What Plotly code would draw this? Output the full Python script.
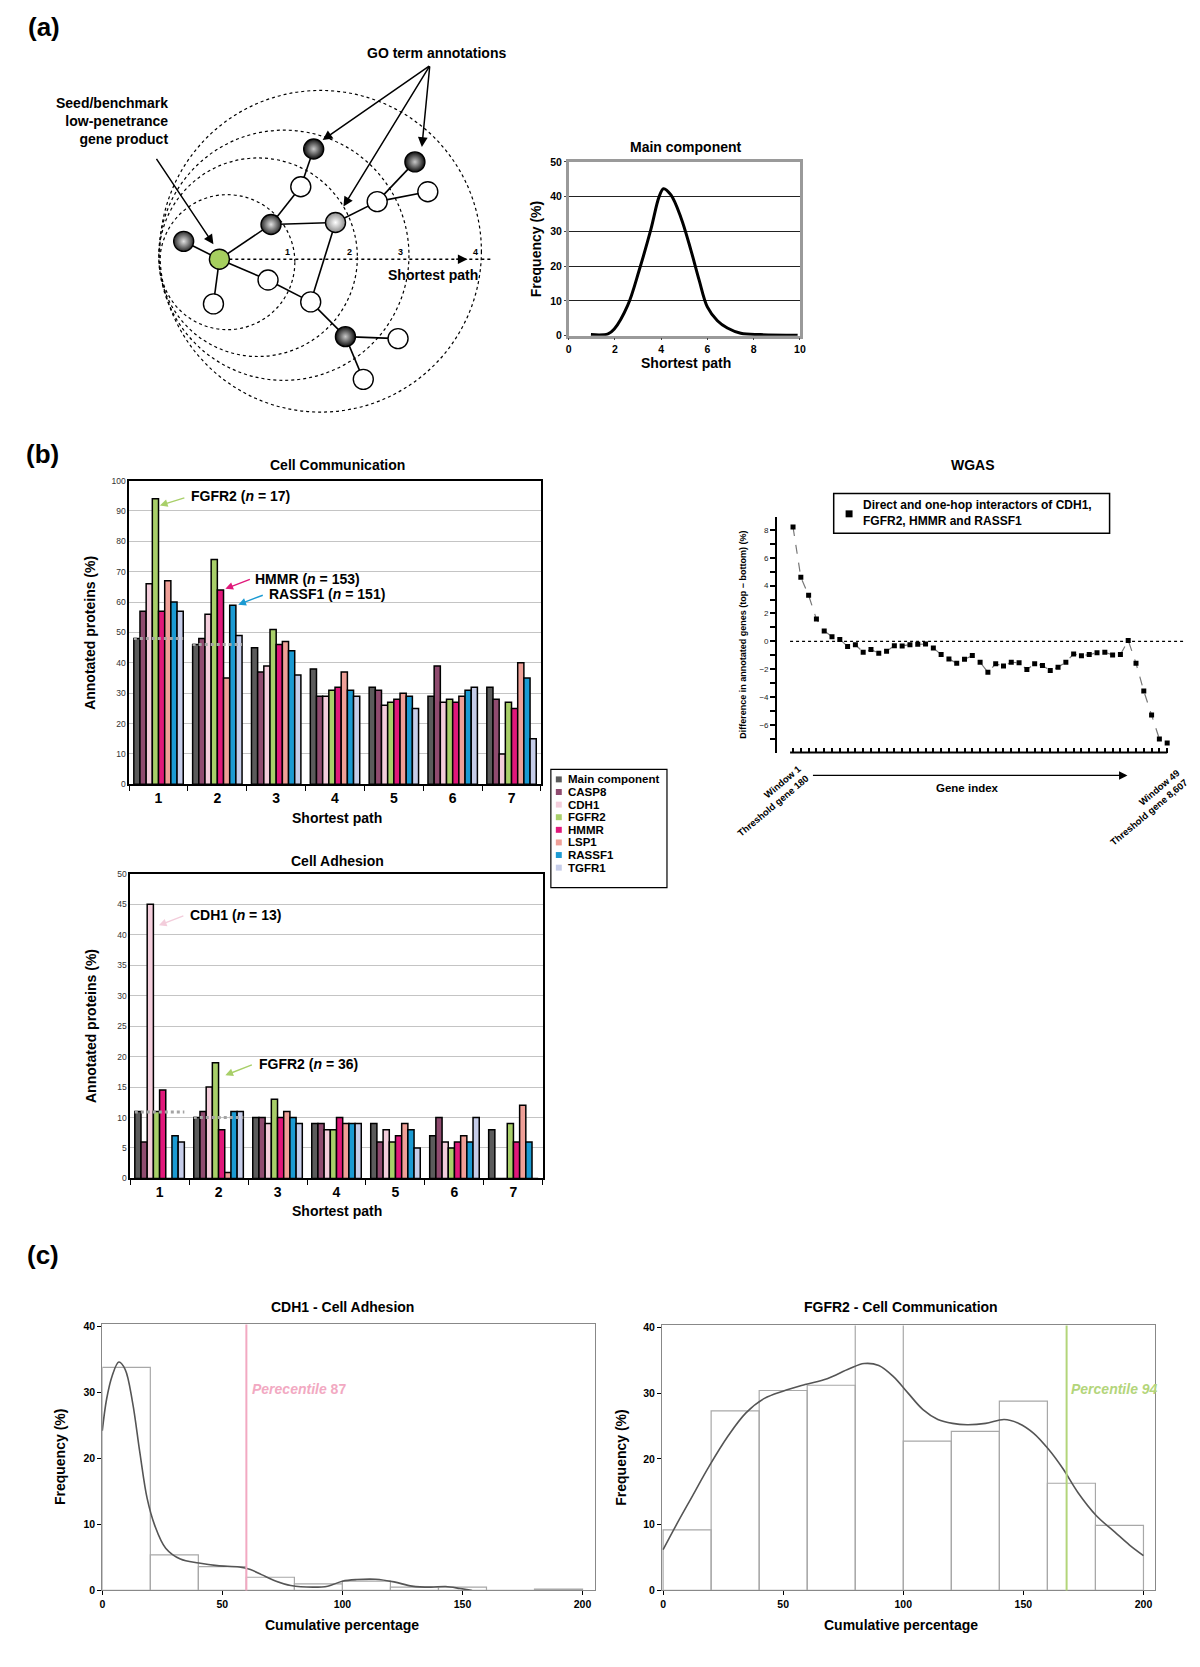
import plotly.graph_objects as go

# page pixel frame: the figure sits 8px in from each page edge (body margin),
# so it is sized to leave exactly the 1200x1667 page
PAGE_W, PAGE_H = 1200, 1667
OFF = 8
FW, FH = PAGE_W - 2 * OFF, PAGE_H - 2 * OFF
FONT = "Liberation Sans"

# ---------------- (a) schematic network (pixel positions of the drawing)
NODE_X = [218, 182, 212, 270, 300, 313, 335, 377, 428, 415, 267, 310, 345, 398, 363]
NODE_Y = [255, 237, 300, 220, 182, 144, 218, 197, 187, 157, 276, 298, 333, 335, 376]
NODE_KIND = ["seed", "mid", "open", "mid", "open", "dark", "light", "open",
             "open", "dark", "open", "open", "dark", "open", "open"]
EDGES = [(0, 1), (0, 2), (0, 3), (0, 10), (3, 4), (4, 5), (3, 6), (6, 11), (6, 7),
         (7, 9), (7, 8), (10, 11), (11, 12), (12, 13), (12, 14)]
RING_CX = [226, 257, 283, 320]
RING_CY = [258, 253, 251, 247]
RING_R = [68, 100, 126, 162]
RING_LABELS = ["1", "2", "3", "4"]

# ---------------- (a) main component distribution
MC_PATH = [0.96, 1.7, 1.97, 2.55, 3.05, 3.55, 3.91, 4.1, 4.42, 4.85, 5.28, 5.64, 6.0, 6.43, 6.86, 7.44, 8.3, 9.9]
MC_FREQ = [0.3, 0.5, 1.9, 8.7, 18.9, 30.5, 40, 42.3, 40.5, 34, 24.7, 16, 8.2, 4.3, 2.2, 0.7, 0.3, 0.1]

# ---------------- (b) annotated proteins by shortest path
PATHS = [1, 2, 3, 4, 5, 6, 7]
SERIES = ["Main component", "CASP8", "CDH1", "FGFR2", "HMMR", "LSP1", "RASSF1", "TGFR1"]
COLORS = ["#5b5b5b", "#8f4b6f", "#f3cddb", "#a8cf69", "#e0187a", "#ef9f97", "#1b9ad2", "#c6cde9"]

COMM_MAIN = [48, 46, 45, 38, 32, 29, 32]
COMM_CASP8 = [57, 48, 37, 29, 31, 39, 28]
COMM_CDH1 = [66, 56, 39, 29, 26, 27, 10]
COMM_FGFR2 = [94, 74, 51, 31, 27, 28, 27]
COMM_HMMR = [57, 64, 46, 32, 28, 27, 25]
COMM_LSP1 = [67, 35, 47, 37, 30, 29, 40]
COMM_RASSF1 = [60, 59, 44, 31, 29, 31, 35]
COMM_TGFR1 = [57, 49, 36, 29, 25, 32, 15]
COMM_REF = [48, 46]

ADH_MAIN = [11, 10, 10, 9, 9, 7, 8]
ADH_CASP8 = [6, 11, 10, 9, 6, 10, 0]
ADH_CDH1 = [45, 15, 9, 8, 8, 6, 0]
ADH_FGFR2 = [11, 19, 13, 8, 6, 5, 9]
ADH_HMMR = [14.5, 8, 10, 10, 7, 6, 6]
ADH_LSP1 = [0, 1, 11, 9, 9, 7, 12]
ADH_RASSF1 = [7, 11, 10, 9, 8, 6, 6]
ADH_TGFR1 = [6, 11, 9, 9, 5, 10, 0]
ADH_REF = [10.9, 10]

WGAS_DIFF = [8.2, 4.6, 3.3, 1.6, 0.75, 0.33, 0.14, -0.36, -0.24, -0.78, -0.59, -0.85, -0.71,
             -0.31, -0.33, -0.24, -0.21, -0.19, -0.47, -0.95, -1.26, -1.57, -1.28, -1.02,
             -1.5, -2.21, -1.61, -1.76, -1.5, -1.54, -2.02, -1.61, -1.73, -2.09, -1.85,
             -1.5, -0.9, -1.04, -0.95, -0.81, -0.78, -0.97, -0.95, 0.07, -1.57, -3.56,
             -5.29, -7.0, -7.29]

# ---------------- (c) cumulative percentage histograms
BIN_CENTER = [10, 30, 50, 70, 90, 110, 130, 150, 170, 190]
CDH1_HIST = [33.8, 5.4, 3.6, 2.0, 1.0, 1.4, 0.5, 0.5, 0, 0.2]
CDH1_CX = [0, 1.8, 4.1, 6.9, 9.5, 12.6, 15.6, 18.7, 21.8, 26.4, 32.5, 40.2, 47.9, 57, 61.7,
           66.3, 72.4, 78.5, 87.7, 93.9, 100, 106, 113.8, 121.5, 129, 136.8, 143, 149, 154]
CDH1_CY = [24.2, 29, 32.5, 34.6, 33.5, 28.5, 21, 13.9, 9.9, 6.4, 4.76, 4.16, 3.76, 3.56, 3.16,
           2.4, 1.4, 0.75, 0.5, 0.65, 1.4, 1.65, 1.7, 1.3, 0.65, 0.5, 0.6, 0.3, 0.0]
CDH1_PCT = 60

FGFR2_HIST = [9.2, 27.3, 30.4, 31.2, 41, 22.7, 24.2, 28.8, 16.3, 9.9]
FGFR2_CX = [0, 5.4, 11.5, 19.2, 26.9, 34.5, 42.2, 49.9, 59.1, 68.3, 77.5, 83.7, 89.8, 95.9,
            102, 108.2, 114.4, 120.5, 126.6, 134.3, 142, 148.1, 154.3, 160.4, 166.5, 172.7,
            180.3, 188, 194.2, 200]
FGFR2_CY = [6.2, 9.9, 13.9, 18.9, 23.4, 27, 29.2, 30.3, 31.3, 32.2, 33.7, 34.5, 34.2, 32.5,
            30, 27.5, 26, 25.4, 25.2, 25.4, 26, 25.4, 23.9, 21.5, 18.5, 14.9, 11.4, 8.9, 6.9, 5.3]
FGFR2_PCT = 168


def fx(x):
    return (x - OFF) / FW


def fy(y):
    return 1 - (y - OFF) / FH


def dx(a, b):
    return [fx(a), fx(b)]


def dy(top, bottom):
    return [fy(bottom), fy(top)]


ann = []
shapes = []


def text(x, y, s, size=14, color="black", xanchor="center", yanchor="middle", angle=0, align="center"):
    ann.append(dict(x=fx(x), y=fy(y), xref="paper", yref="paper", text=s, showarrow=False,
                    font=dict(size=size, color=color, family=FONT), xanchor=xanchor,
                    yanchor=yanchor, textangle=angle, align=align))


def arrow(x0, y0, x1, y1, color="black", width=1.5, head=2, size=1.0):
    ann.append(dict(x=fx(x1), y=fy(y1), xref="paper", yref="paper", ax=x0 - x1, ay=y0 - y1,
                    axref="pixel", ayref="pixel", text="", showarrow=True, arrowhead=head,
                    arrowcolor=color, arrowwidth=width, arrowsize=size))


def rect(x0, y0, x1, y1, line="black", fill=None, width=1):
    shapes.append(dict(type="rect", xref="paper", yref="paper", x0=fx(x0), x1=fx(x1),
                       y0=fy(y1), y1=fy(y0), line=dict(color=line, width=width),
                       fillcolor=fill or "rgba(0,0,0,0)"))


fig = go.Figure()

# ---- (a) network schematic on a pixel canvas (x7/y7)
ex, ey = [], []
for a, b in EDGES:
    ex += [NODE_X[a], NODE_X[b], None]
    ey += [NODE_Y[a], NODE_Y[b], None]
fig.add_trace(go.Scatter(x=ex, y=ey, mode="lines", line=dict(color="black", width=1.6),
                         xaxis="x7", yaxis="y7", hoverinfo="skip"))

KIND_STYLE = {
    "seed": ("#a6cf5f", None),
    "open": ("white", None),
    "dark": ("#0e0e0e", "#c8c8c8"),
    "mid": ("#2a2a2a", "#e2e2e2"),
    "light": ("#8c8c8c", "#ffffff"),
}
for kind, (edge_col, centre_col) in KIND_STYLE.items():
    xs = [x for x, k in zip(NODE_X, NODE_KIND) if k == kind]
    ys = [y for y, k in zip(NODE_Y, NODE_KIND) if k == kind]
    marker = dict(size=20, color=edge_col, line=dict(color="black", width=1.4))
    if centre_col:
        marker["gradient"] = dict(type="radial", color=centre_col)
    fig.add_trace(go.Scatter(x=xs, y=ys, mode="markers", marker=marker,
                             xaxis="x7", yaxis="y7", hoverinfo="skip"))

for cx, cy, r in zip(RING_CX, RING_CY, RING_R):
    shapes.append(dict(type="circle", xref="x7", yref="y7", x0=cx - r, x1=cx + r,
                       y0=cy - r, y1=cy + r, line=dict(color="black", width=1.2, dash="dot"),
                       layer="below"))
shapes.append(dict(type="line", xref="x7", yref="y7", x0=NODE_X[0] + 10, x1=493,
                   y0=NODE_Y[0], y1=NODE_Y[0], line=dict(color="black", width=1.4, dash="dot")))
arrow(455, 255, 468, 255, width=1.2, size=1.6)
for lab, lx in zip(RING_LABELS, [287, 349, 400, 476]):
    text(lx, 248, f"<b>{lab}</b>", size=9)
text(433, 271, "<b>Shortest path</b>")
text(437, 47, "<b>GO term annotations</b>")
text(168, 116, "<b>Seed/benchmark<br>low-penetrance<br>gene product</b>",
     xanchor="right", align="right")
arrow(154, 153, 212, 240, width=1.5, size=1.3)
arrow(430, 60, 322, 135, width=1.5, size=1.3)
arrow(430, 60, 343, 202, width=1.5, size=1.3)
arrow(430, 60, 422, 142, width=1.5, size=1.3)

# ---- (a) main component curve
fig.add_trace(go.Scatter(x=MC_PATH, y=MC_FREQ, mode="lines",
                         line=dict(color="black", width=3, shape="spline", smoothing=1.0),
                         xaxis="x", yaxis="y"))
text(688, 142, "<b>Main component</b>")
text(688, 360, "<b>Shortest path</b>")
text(537, 245, "<b>Frequency (%)</b>", angle=-90)

# ---- (b) bar charts
comm = [COMM_MAIN, COMM_CASP8, COMM_CDH1, COMM_FGFR2, COMM_HMMR, COMM_LSP1, COMM_RASSF1, COMM_TGFR1]
adh = [ADH_MAIN, ADH_CASP8, ADH_CDH1, ADH_FGFR2, ADH_HMMR, ADH_LSP1, ADH_RASSF1, ADH_TGFR1]
for name, col, vc, va in zip(SERIES, COLORS, comm, adh):
    for vals, xa, ya in [(vc, "x2", "y2"), (va, "x4", "y4")]:
        fig.add_trace(go.Bar(x=PATHS, y=vals, name=name,
                             marker=dict(color=col, line=dict(color="black", width=1.5)),
                             xaxis=xa, yaxis=ya))
for refs, xa, ya in [(COMM_REF, "x2", "y2"), (ADH_REF, "x4", "y4")]:
    for g, lvl in zip(PATHS, refs):
        fig.add_trace(go.Scatter(x=[g - 0.42, g + 0.42], y=[lvl, lvl], mode="lines",
                                 line=dict(color="#a4a4a4", width=3, dash="dot"),
                                 xaxis=xa, yaxis=ya, hoverinfo="skip"))

text(337, 462, "<b>Cell Communication</b>")
text(337, 818, "<b>Shortest path</b>")
text(88, 631, "<b>Annotated proteins (%)</b>", angle=-90)
text(187, 494, "<b>FGFR2 (<i>n</i> = 17)</b>", xanchor="left")
arrow(184, 495, 158, 503, color=COLORS[3], width=1.4, size=1.1)
text(252, 577, "<b>HMMR (<i>n</i> = 153)</b>", xanchor="left")
arrow(250, 577, 224, 587, color=COLORS[4], width=1.4, size=1.1)
text(266, 592, "<b>RASSF1 (<i>n</i> = 151)</b>", xanchor="left")
arrow(263, 593, 237, 603, color=COLORS[6], width=1.4, size=1.1)

text(337, 861, "<b>Cell Adhesion</b>")
text(337, 1214, "<b>Shortest path</b>")
text(88, 1027, "<b>Annotated proteins (%)</b>", angle=-90)
text(186, 916, "<b>CDH1 (<i>n</i> = 13)</b>", xanchor="left")
arrow(183, 916, 157, 926, color=COLORS[2], width=1.4, size=1.1)
text(256, 1066, "<b>FGFR2 (<i>n</i> = 36)</b>", xanchor="left")
arrow(252, 1066, 224, 1077, color=COLORS[3], width=1.4, size=1.1)

# legend for the bar charts
rect(552, 769, 669, 888, width=1.2)
for i, (name, col) in enumerate(zip(SERIES, COLORS)):
    yc = 779 + i * 12.7
    rect(557, yc - 3, 563, yc + 3, line=col, fill=col, width=0)
    text(567, yc, f"<b>{name}</b>", size=11.5, xanchor="left")

# ---- (b) WGAS
WIN = list(range(1, len(WGAS_DIFF) + 1))
fig.add_trace(go.Scatter(x=WIN, y=WGAS_DIFF, mode="lines+markers",
                         line=dict(color="#777777", width=1.2, dash="dash"),
                         marker=dict(symbol="square", size=5, color="black"),
                         xaxis="x3", yaxis="y3"))
shapes.append(dict(type="line", xref="x3", yref="y3", x0=0.62, x1=51.1, y0=0, y1=0,
                   line=dict(color="black", width=1.3, dash="dot")))
shapes.append(dict(type="line", xref="x3", yref="y3 domain", x0=0.62, x1=WIN[-1], y0=0, y1=0,
                   line=dict(color="black", width=2)))
text(977, 462, "<b>WGAS</b>")
rect(837, 491, 1115, 531, width=1.5)
rect(849, 508, 856, 515, fill="black", width=0)
text(865, 511, "<b>Direct and one-hop interactors of CDH1,<br>FGFR2, HMMR and RASSF1</b>",
     size=12, xanchor="left", align="left")
text(746, 633, "<b>Difference in annotated genes (top \u2212 bottom) (%)</b>", size=9, angle=-90)
text(772, 800, "<b>Window 1<br>Threshold gene 180</b>", size=9.5, angle=-40, align="right")
text(1150, 807, "<b>Window 49<br>Threshold gene 8,607</b>", size=9.5, angle=-40, align="right")
arrow(817, 775, 1133, 775, width=1.2, size=1.4)
text(972, 788, "<b>Gene index</b>", size=11.5)

# ---- (c) histograms
for hist, cx, cy, pct, pcol, xa, ya in [
    (CDH1_HIST, CDH1_CX, CDH1_CY, CDH1_PCT, "#f2a9c2", "x5", "y5"),
    (FGFR2_HIST, FGFR2_CX, FGFR2_CY, FGFR2_PCT, "#b3d57a", "x6", "y6"),
]:
    fig.add_trace(go.Bar(x=BIN_CENTER, y=hist, width=20,
                         marker=dict(color="rgba(255,255,255,0)", line=dict(color="#a8a8a8", width=1.2)),
                         xaxis=xa, yaxis=ya))
    fig.add_trace(go.Scatter(x=cx, y=cy, mode="lines",
                             line=dict(color="#555555", width=1.6, shape="spline", smoothing=1.0),
                             xaxis=xa, yaxis=ya))
    shapes.append(dict(type="line", xref=xa, yref=ya + " domain", x0=pct, x1=pct, y0=0, y1=1,
                       line=dict(color=pcol, width=2)))

text(342, 1310, "<b>CDH1 - Cell Adhesion</b>")
text(342, 1631, "<b>Cumulative percentage</b>")
text(58, 1462, "<b>Frequency (%)</b>", angle=-90)
text(249, 1393, "<b><i>Perecentile</i> 87</b>", color="#f2a9c2", xanchor="left")
text(905, 1310, "<b>FGFR2 - Cell Communication</b>")
text(905, 1631, "<b>Cumulative percentage</b>")
text(623, 1462, "<b>Frequency (%)</b>", angle=-90)
text(1074, 1393, "<b><i>Percentile 94</i></b>", color="#b3d57a", xanchor="left")

# panel letters
text(41, 21, "<b>(a)</b>", size=26)
text(40, 451, "<b>(b)</b>", size=26)
text(40, 1258, "<b>(c)</b>", size=26)

tick_bold = dict(family=FONT, size=10.5, color="black", weight="bold")
bar_x = dict(range=[0.5, 7.5], tickmode="linear", tick0=1, dtick=1, ticks="",
             tickfont=dict(family=FONT, size=14, color="black", weight="bold"),
             showline=True, mirror=True, linecolor="black", linewidth=1.5, showgrid=False,
             zeroline=False, minor=dict(tick0=0.5, dtick=1, ticks="outside", ticklen=5,
                                        tickcolor="black", tickwidth=1))
bar_y = dict(tickfont=dict(family=FONT, size=8.5, color="#333333"), showline=True, mirror=True,
             linecolor="black", linewidth=1.5, gridcolor="#c4c4c4", gridwidth=1, zeroline=False,
             ticks="")
hist_x = dict(tickvals=[0, 50, 100, 150, 200], ticks="outside", ticklen=4, tickcolor="black",
              tickfont=tick_bold, showline=True, mirror=True, linecolor="#888888", linewidth=1,
              showgrid=False, zeroline=False)
hist_y = dict(range=[0, 40.3], tick0=0, dtick=10, ticks="outside", ticklen=4, tickcolor="black",
              tickfont=tick_bold, showline=True, mirror=True, linecolor="#888888", linewidth=1,
              showgrid=False, zeroline=False)

fig.update_layout(
    width=FW, height=FH,
    margin=dict(l=0, r=0, t=0, b=0, pad=0),
    paper_bgcolor="white",
    plot_bgcolor="rgba(0,0,0,0)",
    font=dict(family=FONT, color="black"),
    showlegend=False,
    barmode="group", bargap=0.16, bargroupgap=0,
    annotations=ann,
    shapes=shapes,
    xaxis=dict(domain=dx(570, 803), anchor="y", range=[0, 10], tickvals=[0, 2, 4, 6, 8, 10],
               ticks="outside", ticklen=2, tickfont=tick_bold, showline=True,
               mirror=True, linecolor="#9a9a9a", linewidth=2.5, showgrid=False, zeroline=False),
    yaxis=dict(domain=dy(157, 332), anchor="x", range=[0, 50], dtick=10, ticks="outside",
               ticklen=2, tickfont=tick_bold, showline=True, mirror=True,
               linecolor="#9a9a9a", linewidth=2.5, gridcolor="#222222", gridwidth=1,
               zeroline=False),
    xaxis2=dict(domain=dx(127, 542), anchor="y2", **bar_x),
    yaxis2=dict(domain=dy(478, 784), anchor="x2", range=[0, 100], dtick=10, **bar_y),
    xaxis4=dict(domain=dx(128, 544), anchor="y4", **bar_x),
    yaxis4=dict(domain=dy(874, 1181), anchor="x4", range=[0, 50], dtick=5, **bar_y),
    xaxis3=dict(domain=dx(780, 1190), anchor="y3", range=[-1.04, 51.16], tickvals=WIN,
                showticklabels=False, ticks="inside", ticklen=5, tickwidth=2, tickcolor="black",
                showline=False, showgrid=False, zeroline=False),
    yaxis3=dict(domain=dy(515, 752), anchor="x3", range=[-7.98, 8.9], tick0=0, dtick=2,
                ticks="outside", ticklen=5, tickwidth=1.5, tickcolor="black",
                tickfont=dict(family=FONT, size=8, color="#222222"),
                minor=dict(dtick=1, ticks="outside", ticklen=5, tickwidth=1.5, tickcolor="black"),
                showline=True, linecolor="black", linewidth=2, showgrid=False, zeroline=False),
    xaxis5=dict(domain=dx(100, 596), anchor="y5", range=[0, 205], **hist_x),
    yaxis5=dict(domain=dy(1328, 1596), anchor="x5", **hist_y),
    xaxis6=dict(domain=dx(664, 1161), anchor="y6", range=[-0.45, 204.9], **hist_x),
    yaxis6=dict(domain=dy(1329, 1596), anchor="x6", **hist_y),
    xaxis7=dict(domain=dx(OFF, 520), anchor="y7", range=[OFF, 520], visible=False, fixedrange=True),
    yaxis7=dict(domain=dy(OFF, 430), anchor="x7", range=[430, OFF], visible=False, fixedrange=True),
)

fig.write_html("out.html")
